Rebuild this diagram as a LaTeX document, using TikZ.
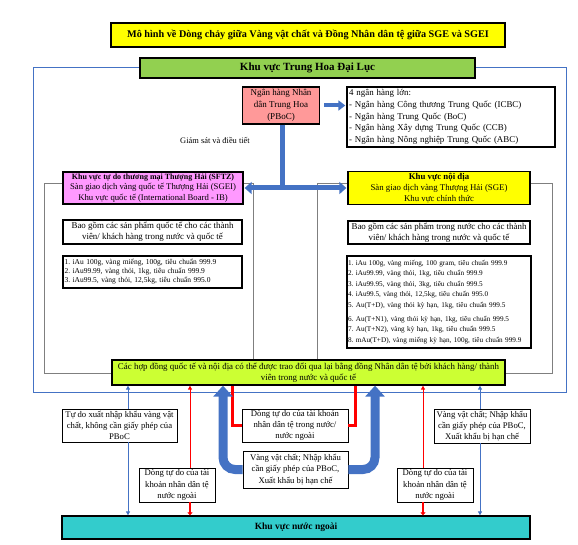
\documentclass[tikz,border=0pt]{standalone}
\usepackage{fontspec}
\setmainfont{Liberation Serif}
\usetikzlibrary{arrows.meta}
\frenchspacing
\definecolor{cyellow}{HTML}{FFFF00}
\definecolor{cgreen}{HTML}{92D050}
\definecolor{cpink}{HTML}{FF9999}
\definecolor{cviolet}{HTML}{FF99FF}
\definecolor{clime}{HTML}{CCFF33}
\definecolor{cteal}{HTML}{33CCCC}
\definecolor{cblue}{HTML}{4472C4}
\definecolor{cgray}{HTML}{7F7F7F}
\begin{document}
\begin{tikzpicture}[x=1pt,y=-1pt,
  box/.style={draw=black, line width=1.3pt, inner sep=1pt, align=center},
  tbox/.style={draw=black, line width=0.9pt, fill=white, inner sep=1pt, align=center, font=\fontsize{8.7}{11.3}\selectfont},
  frame/.style={draw=cgray, line width=0.8pt},
  thinblue/.style={draw=cblue, line width=0.9pt, -{Triangle[length=4pt,width=4pt]}},
  thinred/.style={draw=red, line width=0.9pt, -{Triangle[length=4pt,width=4pt]}},
  shortred/.style={draw=red, line width=2.2pt, -{Triangle[length=3pt,width=5pt]}},
  bigblue/.style={draw=cblue, line width=9pt, rounded corners=12pt, -{Triangle[length=11pt,width=19pt]}},
  midred/.style={draw=red, line width=3pt},
]
\useasboundingbox (0,0) rectangle (578,545);
\fill[white] (0,0) rectangle (578,545);

% outer blue frame and gray frames
\draw[cblue, line width=0.9pt] (33,67) rectangle (566,392);
\draw[frame] (44,183) rectangle (253,373);
\draw[frame] (317,183) rectangle (552,373);

% title
\node[box, fill=cyellow, minimum width=394pt, minimum height=24pt,
  font=\bfseries\fontsize{10.2}{11}\selectfont] (title) at (308,35)
  {Mô hình về Dòng chảy giữa Vàng vật chất và Đồng Nhân dân tệ giữa SGE và SGEI};

\node[box, fill=cgreen, minimum width=335pt, minimum height=20pt,
  font=\bfseries\fontsize{11}{12}\selectfont] (mainland) at (307.5,68)
  {Khu vực Trung Hoa Đại Lục};

\node[box, fill=cpink, minimum width=77pt, minimum height=37pt,
  font=\fontsize{9}{11.8}\selectfont] (pboc) at (281,105.5)
  {Ngân hàng Nhân\\dân Trung Hoa\\(PBoC)};

\node[box, fill=white, text width=204pt, minimum height=60pt, align=left, inner xsep=2pt,
  font=\fontsize{8.9}{11.7}\selectfont] (banks) at (451,117)
  {4 ngân hàng lớn:\\- Ngân hàng Công thương Trung Quốc (ICBC)\\- Ngân hàng Trung Quốc (BoC)\\- Ngân hàng Xây dựng Trung Quốc (CCB)\\- Ngân hàng Nông nghiệp Trung Quốc (ABC)};

\node[font=\fontsize{8.4}{10}\selectfont] (gs) at (215,141) {Giám sát và điều tiết};

\node[box, fill=cviolet, minimum width=180pt, minimum height=32pt, inner sep=0pt,
  font=\fontsize{8.7}{10.8}\selectfont] (sftz) at (153,188)
  {{\bfseries\fontsize{8.0}{10.8}\selectfont Khu vực tự do thương mại Thượng Hải (SFTZ)}\\Sàn giao dịch vàng quốc tế Thượng Hải (SGEI)\\Khu vực quốc tế (International Board - IB)};

\node[box, fill=cyellow, minimum width=182pt, minimum height=33pt, inner sep=0pt,
  font=\fontsize{8.8}{10.8}\selectfont] (sge) at (439,188)
  {\textbf{Khu vực nội địa}\\Sàn giao dịch vàng Thượng Hải (SGE)\\Khu vực chính thức};

\node[box, fill=white, minimum width=179pt, minimum height=24pt,
  font=\fontsize{8.9}{11.3}\selectfont] (ldesc) at (152.5,232)
  {Bao gồm các sản phẩm quốc tế cho các thành\\viên/ khách hàng trong nước và quốc tế};

\node[box, fill=white, minimum width=182pt, minimum height=23pt,
  font=\fontsize{8.9}{11.3}\selectfont] (rdesc) at (439,232.5)
  {Bao gồm các sản phẩm trong nước cho các thành\\viên/ khách hàng trong nước và quốc tế};

\node[box, fill=white, text width=176pt, minimum height=32pt, align=left, inner xsep=1.5pt,
  font=\fontsize{7.5}{9}\selectfont] (llist) at (152.5,272)
  {1. iAu 100g, vàng miếng, 100g, tiêu chuẩn 999.9\\2. iAu99.99, vàng thỏi, 1kg, tiêu chuẩn 999.9\\3. iAu99.5, vàng thỏi, 12,5kg, tiêu chuẩn 995.0};

\node[box, fill=white, text width=182pt, minimum height=92pt, align=left, inner xsep=1pt,
  font=\fontsize{7.2}{10.4}\selectfont] (rlist) at (439,302)
  {1. iAu 100g, vàng miếng, 100 gram, tiêu chuẩn 999.9\\2. iAu99.99, vàng thỏi, 1kg, tiêu chuẩn 999.9\\3. iAu99.95, vàng thỏi, 3kg, tiêu chuẩn 999.5\\4. iAu99.5, vàng thỏi, 12,5kg, tiêu chuẩn 995.0\\5. Au(T+D), vàng thỏi kỳ hạn, 1kg, tiêu chuẩn 999.5\\[4pt]6. Au(T+N1), vàng thỏi kỳ hạn, 1kg, tiêu chuẩn 999.5\\7. Au(T+N2), vàng kỳ hạn, 1kg, tiêu chuẩn 999.5\\8. mAu(T+D), vàng miếng kỳ hạn, 100g, tiêu chuẩn 999.9};

\node[box, fill=clime, minimum width=393pt, minimum height=25pt,
  font=\fontsize{8.9}{11}\selectfont] (lime) at (308.5,372.5)
  {Các hợp đồng quốc tế và nội địa có thể được trao đổi qua lại bằng đồng Nhân dân tệ bởi khách hàng/ thành\\viên trong nước và quốc tế};

\node[box, fill=cteal, minimum width=468pt, minimum height=23pt,
  font=\bfseries\fontsize{9.5}{10}\selectfont] (teal) at (296,527.5)
  {Khu vực nước ngoài};

% bottom text boxes
\node[tbox, minimum width=115pt, minimum height=33pt] (b1) at (119.5,425.5)
  {Tự do xuất nhập khẩu vàng vật\\chất, không cần giấy phép của\\PBoC};
\node[tbox, minimum width=76pt, minimum height=34pt] (b2) at (177,485)
  {Dòng tự do của tài\\khoản nhân dân tệ\\nước ngoài};
\node[tbox, minimum width=106pt, minimum height=33pt] (b3) at (295,425.5)
  {Dòng tự do của tài khoản\\nhân dân tệ trong nước/\\nước ngoài};
\node[tbox, minimum width=105pt, minimum height=37pt] (b4) at (295.5,469.5)
  {Vàng vật chất; Nhập khẩu\\cần giấy phép của PBoC,\\Xuất khẩu bị hạn chế};
\node[tbox, minimum width=76pt, minimum height=34pt] (b5) at (435,485)
  {Dòng tự do của tài\\khoản nhân dân tệ\\nước ngoài};
\node[tbox, minimum width=96pt, minimum height=34pt] (b6) at (482,426)
  {Vàng vật chất; Nhập khẩu\\cần giấy phép của PBoC,\\Xuất khẩu bị hạn chế};

% x positions for vertical connectors
\coordinate (xa) at (128,0);
\coordinate (xr) at (190,0);
\coordinate (xbl) at (223,0);
\coordinate (xrl) at (232,0);
\coordinate (xrr) at (355,0);
\coordinate (xbr) at (375,0);
\coordinate (xs) at (423,0);
\coordinate (xb) at (480,0);
\coordinate (split) at (282,189);

% top arrows
\draw[cblue, line width=4pt, -{Triangle[length=7pt,width=10pt]}]
  ([xshift=4pt]pboc.east) -- ([xshift=-1pt]banks.west |- pboc.east);
\draw[cblue, line width=5pt] (pboc.south -| split) -- (split);
\draw[cblue, line width=5pt, {Triangle[length=7pt,width=12pt]}-{Triangle[length=7pt,width=12pt]}]
  ([xshift=1pt]sftz.east) -- ([xshift=-1pt]sge.west);

% bottom connectors
\draw[thinblue] (b1.north -| xa) -- (lime.south -| xa);
\draw[thinblue] (b1.south -| xa) -- (teal.north -| xa);
\draw[thinred] (b2.north -| xr) -- (lime.south -| xr);
\draw[shortred] (b2.south -| xr) -- (teal.north -| xr);
\draw[midred] (b3.west) -| (lime.south -| xrl);
\draw[midred] (b3.east) -| (lime.south -| xrr);
\draw[bigblue] (b4.west) -| (lime.south -| xbl);
\draw[bigblue] (b4.east) -| (lime.south -| xbr);
\draw[thinred] (b5.north -| xs) -- (lime.south -| xs);
\draw[shortred] (b5.south -| xs) -- (teal.north -| xs);
\draw[thinblue] (b6.north -| xb) -- (lime.south -| xb);
\draw[thinblue] (b6.south -| xb) -- (teal.north -| xb);
\end{tikzpicture}
\end{document}
